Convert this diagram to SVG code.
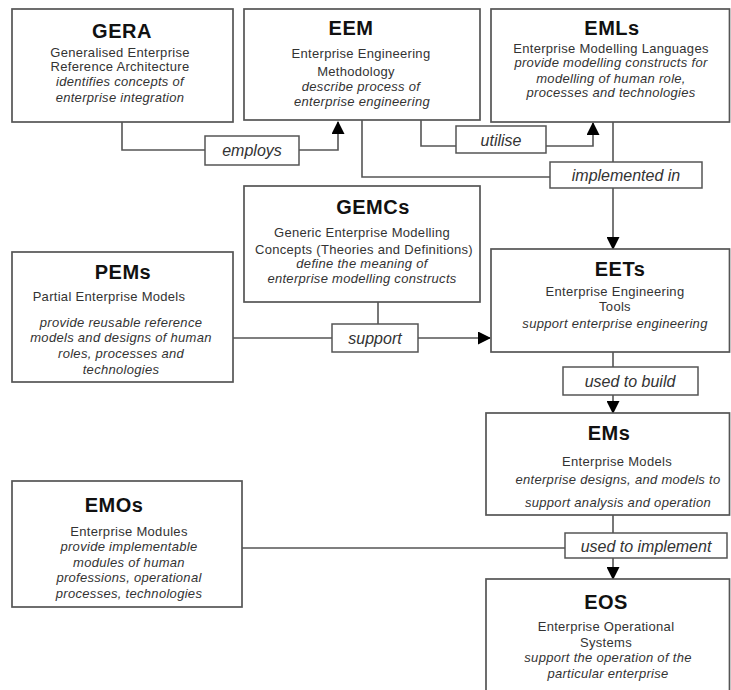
<svg xmlns="http://www.w3.org/2000/svg" width="731" height="690" viewBox="0 0 731 690">
<style>
.box{fill:#fff;stroke:#555;stroke-width:1.7}
.lbl{fill:#fff;stroke:#555;stroke-width:1.5}
.con{fill:none;stroke:#555;stroke-width:1.6}
text{font-family:"Liberation Sans",Arial,sans-serif;text-anchor:middle}
.t{font-size:20px;font-weight:bold;fill:#111;letter-spacing:0.5px}
.b{font-size:13px;fill:#333;letter-spacing:0.3px}
.i{font-size:13px;fill:#333;font-style:italic;letter-spacing:0.3px}
.l{font-size:16px;fill:#333;font-style:italic}
</style>
<defs>
<marker id="arr" markerUnits="userSpaceOnUse" markerWidth="13" markerHeight="13" refX="12" refY="6.5" orient="auto">
<path d="M0,0 L13,6.5 L0,13 z" fill="#000"/>
</marker>
</defs>
<rect width="731" height="690" fill="#fff"/>
<g id="connectors">
<path class="con" d="M122,122 V150 H338 V122" marker-end="url(#arr)"/>
<path class="con" d="M421,120 V146 H593 V123" marker-end="url(#arr)"/>
<path class="con" d="M362,120 V177 H551"/>
<path class="con" d="M613,122 V249" marker-end="url(#arr)"/>
<path class="con" d="M233,338 H490" marker-end="url(#arr)"/>
<path class="con" d="M378,302 V324"/>
<path class="con" d="M613,352 V413" marker-end="url(#arr)"/>
<path class="con" d="M613,515 V579" marker-end="url(#arr)"/>
<path class="con" d="M242,548 H565"/>
<g id="lbl-employs"><rect class="lbl" x="205" y="136" width="94" height="29"/><text class="l" x="252" y="156">employs</text></g>
<g id="lbl-utilise"><rect class="lbl" x="456" y="126" width="90" height="27"/><text class="l" x="501" y="145.5">utilise</text></g>
<g id="lbl-implemented"><rect class="lbl" x="550" y="162" width="152" height="26"/><text class="l" x="626" y="180.5">implemented in</text></g>
<g id="lbl-support"><rect class="lbl" x="332" y="324" width="86" height="28"/><text class="l" x="375" y="343.5">support</text></g>
<g id="lbl-build"><rect class="lbl" x="563" y="367" width="135" height="28"/><text class="l" x="630" y="386.5">used to build</text></g>
<g id="lbl-implement"><rect class="lbl" x="565" y="533" width="162" height="25"/><text class="l" x="646" y="551.5">used to implement</text></g>
</g>
<g id="GERA">
<rect class="box" x="12" y="9" width="221" height="113"/>
<text class="t" x="122" y="38">GERA</text>
<text class="b" x="120" y="56.5">Generalised Enterprise</text>
<text class="b" x="120" y="70.5">Reference Architecture</text>
<text class="i" x="120" y="85.5">identifies concepts of</text>
<text class="i" x="120" y="101.5">enterprise integration</text>
</g>
<g id="EEM">
<rect class="box" x="244" y="9" width="236" height="111"/>
<text class="t" x="351" y="35">EEM</text>
<text class="b" x="361" y="57.5">Enterprise Engineering</text>
<text class="b" x="356" y="75.5">Methodology</text>
<text class="i" x="361" y="90.5">describe process of</text>
<text class="i" x="362" y="105.5">enterprise engineering</text>
</g>
<g id="EMLs">
<rect class="box" x="491" y="9" width="238.5" height="113"/>
<text class="t" x="612" y="35">EMLs</text>
<text class="b" x="611" y="52.5">Enterprise Modelling Languages</text>
<text class="i" x="611" y="66.5">provide modelling constructs for</text>
<text class="i" x="611" y="82.5">modelling of human role,</text>
<text class="i" x="611" y="96.5">processes and technologies</text>
</g>
<g id="GEMCs">
<rect class="box" x="244" y="186" width="236" height="116"/>
<text class="t" x="373" y="214">GEMCs</text>
<text class="b" x="362" y="236.5">Generic Enterprise Modelling</text>
<text class="b" x="364" y="253.5">Concepts (Theories and Definitions)</text>
<text class="i" x="362" y="267.5">define the meaning of</text>
<text class="i" x="362" y="282.5">enterprise modelling constructs</text>
</g>
<g id="PEMs">
<rect class="box" x="12" y="252" width="221" height="130"/>
<text class="t" x="123" y="279">PEMs</text>
<text class="b" x="109" y="300.5">Partial Enterprise Models</text>
<text class="i" x="121" y="326.5">provide reusable reference</text>
<text class="i" x="121" y="341.5">models and designs of human</text>
<text class="i" x="121" y="357.5">roles, processes and</text>
<text class="i" x="121" y="373.5">technologies</text>
</g>
<g id="EETs">
<rect class="box" x="491" y="249" width="238.5" height="103"/>
<text class="t" x="620" y="276">EETs</text>
<text class="b" x="615" y="295.5">Enterprise Engineering</text>
<text class="b" x="615" y="310.5">Tools</text>
<text class="i" x="615" y="327.5">support enterprise engineering</text>
</g>
<g id="EMs">
<rect class="box" x="486" y="413" width="243.5" height="102"/>
<text class="t" x="609" y="440">EMs</text>
<text class="b" x="617" y="465.5">Enterprise Models</text>
<text class="i" x="618" y="483.5">enterprise designs, and models to</text>
<text class="i" x="618" y="506.5">support analysis and operation</text>
</g>
<g id="EMOs">
<rect class="box" x="12" y="481" width="230" height="126"/>
<text class="t" x="114" y="512">EMOs</text>
<text class="b" x="129" y="535.5">Enterprise Modules</text>
<text class="i" x="129" y="550.5">provide implementable</text>
<text class="i" x="129" y="566.5">modules of human</text>
<text class="i" x="129" y="581.5">professions, operational</text>
<text class="i" x="129" y="597.5">processes, technologies</text>
</g>
<g id="EOS">
<rect class="box" x="486" y="579" width="243.5" height="130"/>
<text class="t" x="606" y="609">EOS</text>
<text class="b" x="606" y="630.5">Enterprise Operational</text>
<text class="b" x="606" y="646.5">Systems</text>
<text class="i" x="608" y="661.5">support the operation of the</text>
<text class="i" x="608" y="677.5">particular enterprise</text>
</g>
</svg>
